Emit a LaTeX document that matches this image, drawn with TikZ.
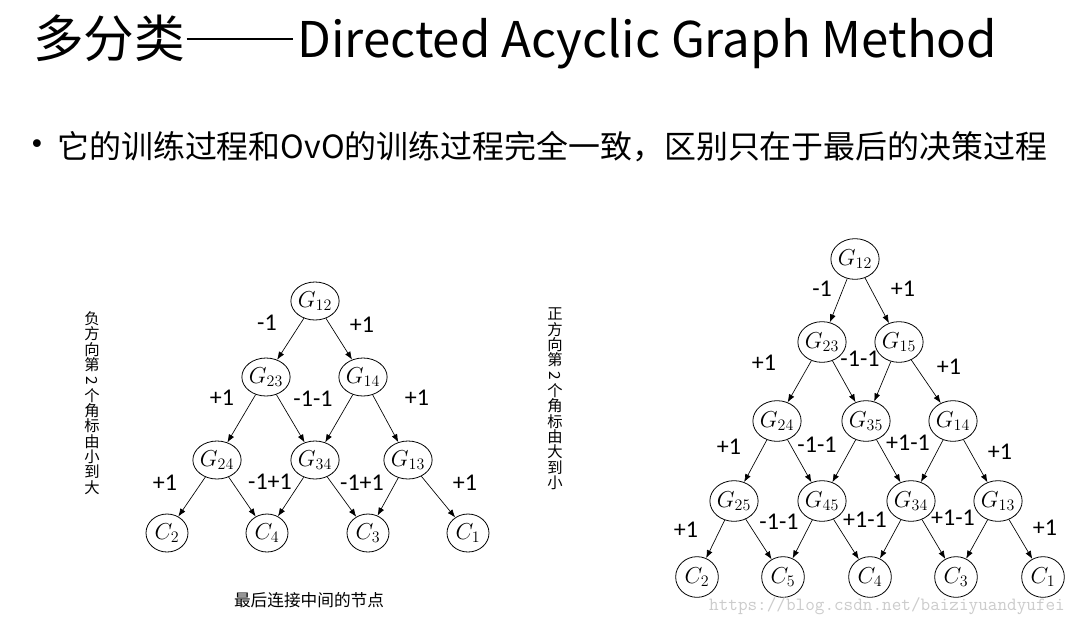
\documentclass[tikz,border=0pt]{standalone}
\usepackage{fontspec}
\usepackage{graphicx}
\usetikzlibrary{shapes.geometric,arrows.meta}
\setmainfont{Noto Sans CJK SC}
\newfontfamily\cjk{Noto Sans CJK SC}
\newfontfamily\carl{Carlito}
\newfontfamily\dejavu{DejaVu Sans}
\begin{document}
\begin{tikzpicture}[x=0.75pt,y=-0.75pt]
\tikzset{
  nd/.style={ellipse, draw, line width=0.6pt, inner sep=0pt, font=\fontsize{18}{18}\selectfont},
  ndl/.style={nd, minimum width=31.5pt, minimum height=28.5pt},
  ndr/.style={nd, minimum width=32pt, minimum height=30.5pt},
  ar/.style={-{Latex[length=6pt,width=4.5pt]}, line width=0.5pt},
  lb/.style={font=\carl\fontsize{18}{18}\selectfont, inner sep=0pt},
  vt/.style={font=\cjk\fontsize{11.5}{11.5}\selectfont, align=center, inner sep=0pt}
}
\useasboundingbox (0,0) rectangle (1085,626);
\fill[white] (0,0) rectangle (1085,626);

% title and bullet
\node[anchor=west, inner sep=0pt, font=\cjk\fontsize{38}{40}\selectfont] (title) at (33,42) {多分类\hspace{1pt}\rule[13.5pt]{80pt}{1.3pt}\hspace{3pt}{\fontsize{36.9}{40}\selectfont Directed Acyclic Graph Method}};
\node[inner sep=0pt, font=\dejavu\fontsize{20}{20}\selectfont] (dot) at (37,147) {•};
\node[anchor=west, inner sep=0pt, font=\cjk\fontsize{23.95}{26}\selectfont] (bullet) at (57,147) {它的训练过程和OvO的训练过程完全一致，区别只在于最后的决策过程};

% vertical texts
\node[vt] (vl) at (92,403) {负\\方\\向\\第\\\rotatebox[origin=c]{-90}{2}\\个\\角\\标\\由\\小\\到\\大};
\node[vt] (vr) at (555,399) {正\\方\\向\\第\\\rotatebox[origin=c]{-90}{2}\\个\\角\\标\\由\\大\\到\\小};

% left tree
\node[ndl] (a12) at (315,301) {$G_{12}$};
\node[ndl] (a23) at (266,377) {$G_{23}$};
\node[ndl] (a14) at (363,377) {$G_{14}$};
\node[ndl] (a24) at (217,460) {$G_{24}$};
\node[ndl] (a34) at (315,460) {$G_{34}$};
\node[ndl] (a13) at (408,460) {$G_{13}$};
\node[ndl] (ac2) at (167,533) {$C_{2}$};
\node[ndl] (ac4) at (267,533) {$C_{4}$};
\node[ndl] (ac3) at (368,533) {$C_{3}$};
\node[ndl] (ac1) at (468,533) {$C_{1}$};
\foreach \s/\t in {a12/a23,a12/a14,a23/a24,a23/a34,a14/a34,a14/a13,a24/ac2,a24/ac4,a34/ac4,a34/ac3,a13/ac3,a13/ac1}
  \draw[ar] (\s) -- (\t);
\node[lb] (la1) at (267,323) {-1};
\node[lb] (la2) at (362,325) {+1};
\node[lb] (la3) at (222,398) {+1};
\node[lb] (la4) at (313,399) {-1-1};
\node[lb] (la5) at (417,398) {+1};
\node[lb] (la6) at (165,483) {+1};
\node[lb] (la7) at (270,482) {-1+1};
\node[lb] (la8) at (362,483) {-1+1};
\node[lb] (la9) at (465,483) {+1};
\node[inner sep=0pt, font=\cjk\fontsize{12.5}{13}\selectfont] (cap) at (309,600) {最后连接中间的节点};

% right tree
\node[ndr] (b12) at (855,259) {$G_{12}$};
\node[ndr] (b23) at (822,342) {$G_{23}$};
\node[ndr] (b15) at (899,342) {$G_{15}$};
\node[ndr] (b24) at (777,421) {$G_{24}$};
\node[ndr] (b35) at (866,421) {$G_{35}$};
\node[ndr] (b14) at (953,421) {$G_{14}$};
\node[ndr] (b25) at (734,501) {$G_{25}$};
\node[ndr] (b45) at (822,501) {$G_{45}$};
\node[ndr] (b34) at (911,501) {$G_{34}$};
\node[ndr] (b13) at (998,501) {$G_{13}$};
\node[ndr] (bc2) at (697,577) {$C_{2}$};
\node[ndr] (bc5) at (783,577) {$C_{5}$};
\node[ndr] (bc4) at (870,577) {$C_{4}$};
\node[ndr] (bc3) at (956,577) {$C_{3}$};
\node[ndr] (bc1) at (1043,577) {$C_{1}$};
\foreach \s/\t in {b12/b23,b12/b15,b23/b24,b23/b35,b15/b35,b15/b14,b24/b25,b24/b45,b35/b45,b35/b34,b14/b34,b14/b13,b25/bc2,b25/bc5,b45/bc5,b45/bc4,b34/bc4,b34/bc3,b13/bc3,b13/bc1}
  \draw[ar] (\s) -- (\t);
\node[lb] (lb1) at (822,289) {-1};
\node[lb] (lb2) at (903,289) {+1};
\node[lb] (lb3) at (764,363) {+1};
\node[lb] (lb4) at (860,359) {-1-1};
\node[lb] (lb5) at (949,367) {+1};
\node[lb] (lb6) at (729,447) {+1};
\node[lb] (lb7) at (817,445) {-1-1};
\node[lb] (lb8) at (908,443) {+1-1};
\node[lb] (lb9) at (1000,452) {+1};
\node[lb] (lb10) at (686,530) {+1};
\node[lb] (lb11) at (779,522) {-1-1};
\node[lb] (lb12) at (865,520) {+1-1};
\node[lb] (lb13) at (953,518) {+1-1};
\node[lb] (lb14) at (1045,528) {+1};

% watermark
\node[inner sep=0pt, text=black!20, font=\ttfamily\fontsize{14}{14}\selectfont] (wm) at (887,606) {https://blog.csdn.net/baiziyuandyufei};
\end{tikzpicture}
\end{document}
